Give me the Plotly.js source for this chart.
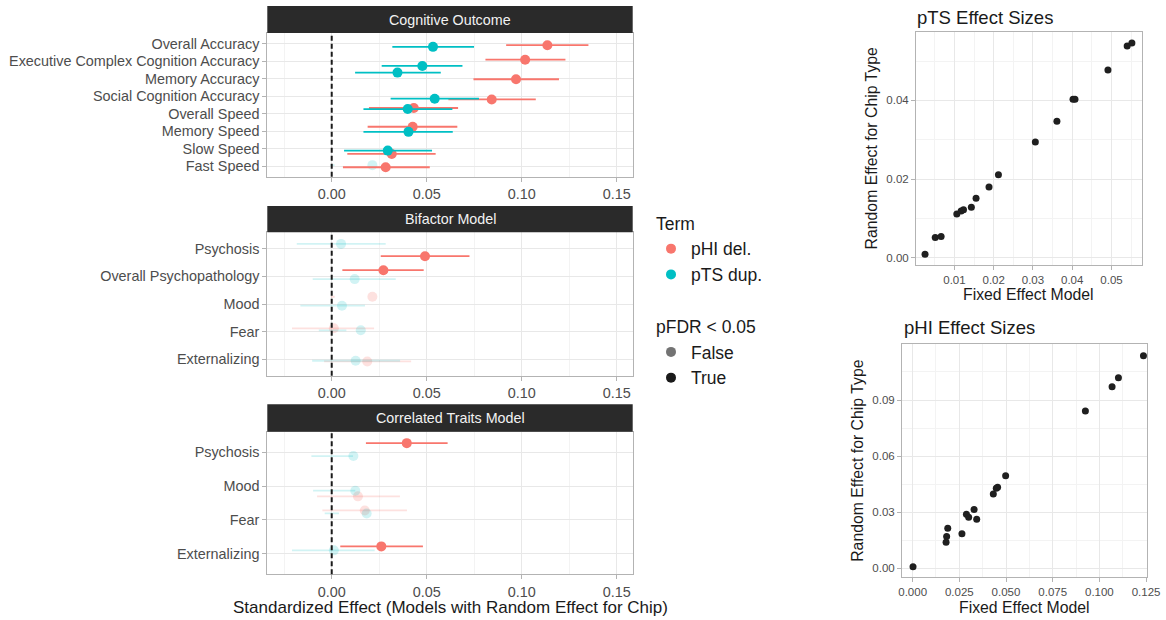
<!DOCTYPE html>
<html><head><meta charset="utf-8">
<script src="https://cdn.plot.ly/plotly-3.0.1.min.js"></script>
<style>html,body{margin:0;padding:0;background:#fff}#chart{width:1166px;height:620px}</style>
</head><body><div id="chart"></div>
<script>
// ---------- DATA ----------
const cogLabels = ['Overall Accuracy','Executive Complex Cognition Accuracy','Memory Accuracy','Social Cognition Accuracy','Overall Speed','Memory Speed','Slow Speed','Fast Speed'];
const cog_pHI_est = [0.1135,0.1018,0.0970,0.0842,0.0432,0.0426,0.0316,0.0284];
const cog_pHI_lo  = [0.0918,0.0809,0.0746,0.0614,0.0196,0.0189,0.0082,0.0059];
const cog_pHI_hi  = [0.1351,0.1230,0.1196,0.1074,0.0665,0.0661,0.0547,0.0516];
const cog_pHI_sig = [1,1,1,1,1,1,1,1];
const cog_pHI_jit = [0.095,-0.076,0.04,0.19,-0.32,-0.25,0.30,0.06];
const cog_pTS_est = [0.0533,0.0477,0.0346,0.0542,0.0400,0.0404,0.0295,0.0214];
const cog_pTS_lo  = [0.0319,0.0263,0.0123,0.0310,0.0167,0.0167,0.0065,-0.0008];
const cog_pTS_hi  = [0.0749,0.0688,0.0574,0.0775,0.0635,0.0637,0.0528,0.0015];
const cog_pTS_sig = [1,1,1,1,1,1,1,0];
const cog_pTS_jit = [0.19,0.28,-0.34,0.15,-0.26,0.04,0.11,-0.06];

const bifLabels = ['Psychosis','Overall Psychopathology','Mood','Fear','Externalizing'];
const bif_pHI_est = [0.0491,0.0272,0.0214,0.0011,0.0187];
const bif_pHI_lo  = [0.0258,0.0056,-0.0005,-0.0209,-0.0040];
const bif_pHI_hi  = [0.0725,0.0484,0.0016,0.0223,0.0418];
const bif_pHI_sig = [1,1,0,0,0];
const bif_pHI_jit = [0.266,-0.226,-0.262,-0.118,0.083];
const bif_pTS_est = [0.0049,0.0121,0.0054,0.0153,0.0126];
const bif_pTS_lo  = [-0.0184,-0.0100,-0.0165,-0.0068,-0.0103];
const bif_pTS_hi  = [0.0284,0.0337,0.0175,0.0077,0.0360];
const bif_pTS_sig = [0,0,0,0,0];
const bif_pTS_jit = [-0.18,0.097,0.061,-0.047,0.057];

const corLabels = ['Psychosis','Mood','Fear','Externalizing'];
const cor_pHI_est = [0.0395,0.0138,0.0174,0.0261];
const cor_pHI_lo  = [0.0180,-0.0077,-0.0049,0.0045];
const cor_pHI_hi  = [0.0610,0.0359,0.0396,0.0480];
const cor_pHI_sig = [1,0,0,1];
const cor_pHI_jit = [-0.263,0.304,-0.281,-0.222];
const cor_pTS_est = [0.0114,0.0124,0.0184,0.0011];
const cor_pTS_lo  = [-0.0107,-0.0098,-0.0037,-0.0209];
const cor_pTS_hi  = [0.0112,0.0124,0.0038,0.0226];
const cor_pTS_sig = [0,0,0,0];
const cor_pTS_jit = [0.117,0.137,-0.193,-0.105];

const pTS_fixed  = [0.0025,0.0051,0.0066,0.0106,0.0117,0.0123,0.0143,0.0155,0.0188,0.0212,0.0306,0.0361,0.0402,0.0407,0.0491,0.0540,0.0552];
const pTS_random = [0.0009,0.0051,0.0054,0.0111,0.0119,0.0122,0.0128,0.0151,0.0180,0.0211,0.0294,0.0347,0.0403,0.0403,0.0477,0.0538,0.0546];
const pHI_fixed  = [0.0002,0.0179,0.0182,0.0188,0.0264,0.0288,0.0300,0.0329,0.0343,0.0432,0.0448,0.0455,0.0498,0.0925,0.1068,0.1102,0.1236];
const pHI_random = [0.0009,0.0139,0.0171,0.0214,0.0185,0.0289,0.0273,0.0315,0.0262,0.0397,0.0428,0.0434,0.0495,0.0841,0.0971,0.1019,0.1137];

// ---------- STYLE / LAYOUT ----------
const W = 1166, H = 620;
const fx = p => p / W, fy = p => 1 - p / H;
const RED = '#F8766D', TEAL = '#00BFC4';
const RED_F = 'rgba(248,118,109,0.22)', TEAL_F = 'rgba(0,191,196,0.18)';
const FONT = 'Liberation Sans, Arial, Helvetica, sans-serif';

function pointRange(xa, ya, est, lo, hi, sig, jit, s, col){
  const idx = est.map((_, i) => i).filter(i => sig[i] === s);
  const lx = [], ly = [];
  idx.forEach(i => { const yy = i + jit[i]; lx.push(lo[i], hi[i], null); ly.push(yy, yy, null); });
  return [
    {type:'scatter', mode:'lines', x:lx, y:ly, xaxis:xa, yaxis:ya, line:{color:col, width:1.8}, showlegend:false, hoverinfo:'skip'},
    {type:'scatter', mode:'markers', x:idx.map(i => est[i]), y:idx.map(i => i + jit[i]), xaxis:xa, yaxis:ya, marker:{color:col, size:10}, showlegend:false}
  ];
}
function panel(xa, ya, h, t){
  return [
    ...pointRange(xa, ya, h.est, h.lo, h.hi, h.sig, h.jit, 0, RED_F),
    ...pointRange(xa, ya, t.est, t.lo, t.hi, t.sig, t.jit, 0, TEAL_F),
    ...pointRange(xa, ya, h.est, h.lo, h.hi, h.sig, h.jit, 1, RED),
    ...pointRange(xa, ya, t.est, t.lo, t.hi, t.sig, t.jit, 1, TEAL)
  ];
}

const traces = [
  ...panel('x','y', {est:cog_pHI_est, lo:cog_pHI_lo, hi:cog_pHI_hi, sig:cog_pHI_sig, jit:cog_pHI_jit},
                    {est:cog_pTS_est, lo:cog_pTS_lo, hi:cog_pTS_hi, sig:cog_pTS_sig, jit:cog_pTS_jit}),
  ...panel('x2','y2', {est:bif_pHI_est, lo:bif_pHI_lo, hi:bif_pHI_hi, sig:bif_pHI_sig, jit:bif_pHI_jit},
                      {est:bif_pTS_est, lo:bif_pTS_lo, hi:bif_pTS_hi, sig:bif_pTS_sig, jit:bif_pTS_jit}),
  ...panel('x3','y3', {est:cor_pHI_est, lo:cor_pHI_lo, hi:cor_pHI_hi, sig:cor_pHI_sig, jit:cor_pHI_jit},
                      {est:cor_pTS_est, lo:cor_pTS_lo, hi:cor_pTS_hi, sig:cor_pTS_sig, jit:cor_pTS_jit}),
  {type:'scatter', mode:'markers', x:pTS_fixed, y:pTS_random, xaxis:'x4', yaxis:'y4', marker:{color:'#1f1f1f', size:7}, showlegend:false},
  {type:'scatter', mode:'markers', x:pHI_fixed, y:pHI_random, xaxis:'x5', yaxis:'y5', marker:{color:'#1f1f1f', size:7}, showlegend:false},
  // legend-only entries
  {type:'scatter', mode:'markers', x:[null], y:[null], name:'pHI del.', marker:{color:RED, size:10}, legendgroup:'term', legendgrouptitle:{text:'Term'}},
  {type:'scatter', mode:'markers', x:[null], y:[null], name:'pTS dup.', marker:{color:TEAL, size:10}, legendgroup:'term'},
  {type:'scatter', mode:'markers', x:[null], y:[null], name:'False', marker:{color:'rgba(0,0,0,0.55)', size:10}, legendgroup:'fdr', legendgrouptitle:{text:'pFDR < 0.05'}},
  {type:'scatter', mode:'markers', x:[null], y:[null], name:'True', marker:{color:'#1a1a1a', size:10}, legendgroup:'fdr'}
];

const axBase = {
  showline:true, mirror:true, linecolor:'#b3b3b3', linewidth:1,
  ticks:'outside', ticklen:4, tickcolor:'#b3b3b3', tickwidth:1,
  showgrid:true, gridcolor:'#e8e8e8', gridwidth:1, zeroline:false,
  tickfont:{family:FONT, size:14.4, color:'#4d4d4d'}, automargin:false, fixedrange:true
};
const FX0 = fx(267.3), FX1 = fx(632.7);
function forestX(anchor, dom){
  return Object.assign({}, axBase, {anchor, domain:dom, range:[-0.0339, 0.1584], tick0:0, dtick:0.05, tickformat:'.2f',
    minor:{dtick:0.025, tick0:0, showgrid:true, gridcolor:'#f3f3f3', ticklen:0}});
}
function forestY(anchor, dom, labels){
  return Object.assign({}, axBase, {anchor, domain:dom, range:[labels.length - 0.4, -0.6],
    tickvals:labels.map((_, i) => i), ticktext:labels});
}
const sAx = {tickfont:{family:FONT, size:11.5, color:'#4d4d4d'}};

const layout = {
  width:W, height:H, margin:{l:0, r:0, t:0, b:0}, paper_bgcolor:'#fff', plot_bgcolor:'#fff',
  font:{family:FONT, color:'#1a1a1a'},
  xaxis: forestX('y', [FX0, FX1]),
  yaxis: forestY('x', [fy(176.7), fy(33)], cogLabels),
  xaxis2: forestX('y2', [FX0, FX1]),
  yaxis2: forestY('x2', [fy(375.7), fy(232.3)], bifLabels),
  xaxis3: forestX('y3', [FX0, FX1]),
  yaxis3: forestY('x3', [fy(574.3), fy(431.7)], corLabels),
  xaxis4: Object.assign({}, axBase, sAx, {anchor:'y4', domain:[fx(916), fx(1141.7)], range:[0.0002, 0.0577], tick0:0, dtick:0.01, tickformat:'.2f',
    minor:{dtick:0.005, tick0:0, showgrid:true, gridcolor:'#f3f3f3', ticklen:0}}),
  yaxis4: Object.assign({}, axBase, sAx, {anchor:'x4', domain:[fy(265), fy(32.3)], range:[-0.00186, 0.0573], tick0:0, dtick:0.02, tickformat:'.2f',
    minor:{dtick:0.01, tick0:0, showgrid:true, gridcolor:'#f3f3f3', ticklen:0}}),
  xaxis5: Object.assign({}, axBase, sAx, {anchor:'y5', domain:[fx(902), fx(1147)], range:[-0.0057, 0.1255], tick0:0, dtick:0.025, tickformat:'.3f',
    minor:{dtick:0.0125, tick0:0, showgrid:true, gridcolor:'#f3f3f3', ticklen:0}}),
  yaxis5: Object.assign({}, axBase, sAx, {anchor:'x5', domain:[fy(576.7), fy(344.3)], range:[-0.00446, 0.1198], tick0:0, dtick:0.03, tickformat:'.2f',
    minor:{dtick:0.015, tick0:0, showgrid:true, gridcolor:'#f3f3f3', ticklen:0}}),
  showlegend:true,
  legend:{x:fx(651), y:fy(205), xanchor:'left', yanchor:'top', bgcolor:'rgba(0,0,0,0)',
    font:{family:FONT, size:17.5, color:'#1a1a1a'}, grouptitlefont:{family:FONT, size:17.5, color:'#1a1a1a'},
    tracegroupgap:26, itemclick:false},
  shapes:[], annotations:[]
};

// strips
[[6, 33, 'Cognitive Outcome'], [206, 232.3, 'Bifactor Model'], [404.3, 431.7, 'Correlated Traits Model']].forEach(s => {
  layout.shapes.push({type:'rect', xref:'paper', yref:'paper', x0:FX0, x1:FX1, y0:fy(s[1]), y1:fy(s[0]), fillcolor:'#2a2a2a', line:{width:0}});
  layout.annotations.push({xref:'paper', yref:'paper', x:(FX0 + FX1) / 2, y:fy((s[0] + s[1]) / 2), text:s[2], showarrow:false,
    xanchor:'center', yanchor:'middle', font:{family:FONT, size:14.3, color:'#f2f2f2'}});
});
// zero reference lines
[['x','y'], ['x2','y2'], ['x3','y3']].forEach(a => {
  layout.shapes.push({type:'line', xref:a[0], yref:a[1] + ' domain', x0:0, x1:0, y0:0, y1:1, layer:'above',
    line:{color:'#1a1a1a', width:2, dash:'5px,3px'}});
});
// titles
const ann = (x, y, text, size, extra) => layout.annotations.push(Object.assign({xref:'paper', yref:'paper', x, y, text, showarrow:false,
  xanchor:'center', yanchor:'middle', font:{family:FONT, size, color:'#1a1a1a'}}, extra || {}));
ann(fx(450), fy(607.5), 'Standardized Effect (Models with Random Effect for Chip)', 17);
ann(fx(915), fy(17), 'pTS Effect Sizes', 18.5, {xanchor:'left'});
ann(fx(1028.9), fy(294.5), 'Fixed Effect Model', 15.8);
ann(fx(871.7), fy(148.7), 'Random Effect for Chip Type', 15.8, {textangle:-90});
ann(fx(901.5), fy(327.3), 'pHI Effect Sizes', 18.5, {xanchor:'left'});
ann(fx(1024.5), fy(607), 'Fixed Effect Model', 15.8);
ann(fx(857.3), fy(460.5), 'Random Effect for Chip Type', 15.8, {textangle:-90});

Plotly.newPlot('chart', traces, layout, {displayModeBar:false, staticPlot:true});
</script>
</body></html>
